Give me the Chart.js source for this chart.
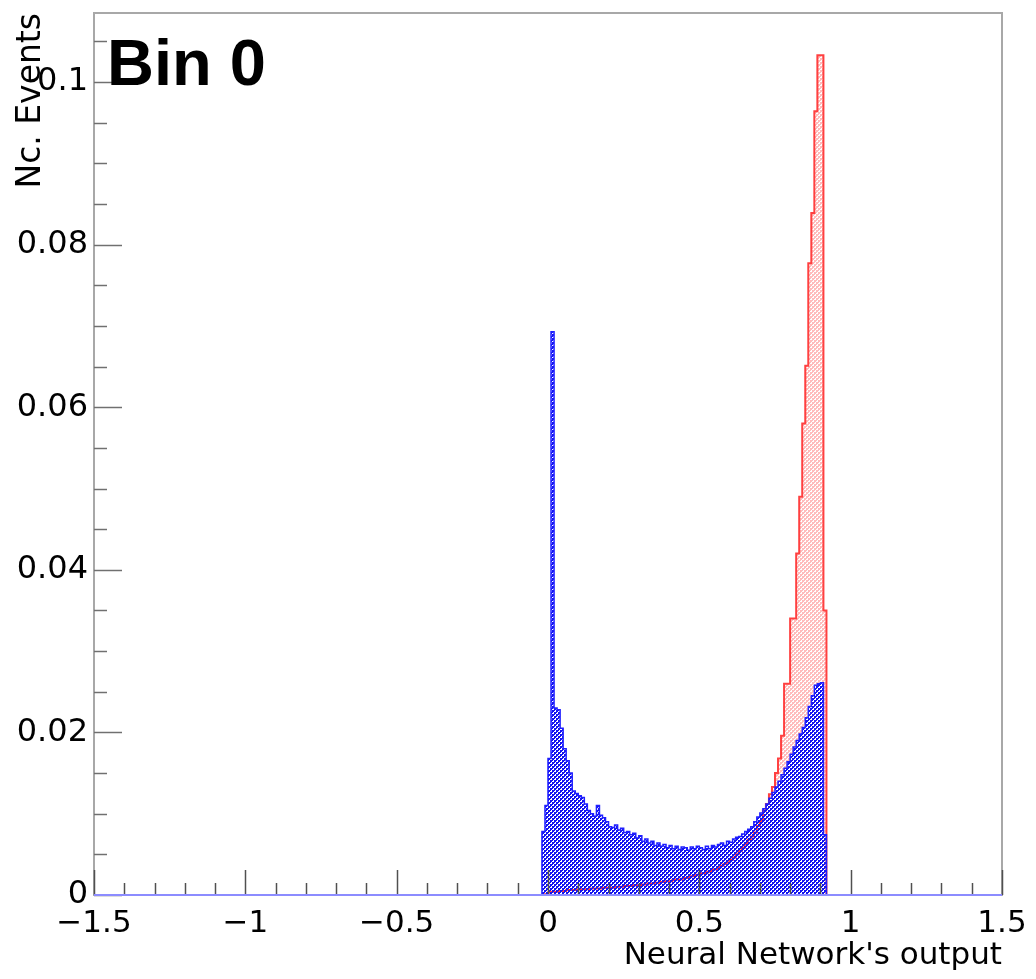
<!DOCTYPE html>
<html lang="en">
<head>
<meta charset="UTF-8">
<title>Bin 0 - Neural Network output</title>
<script src="https://cdn.jsdelivr.net/npm/chart.js"></script>
<style>
	body { margin: 0; background: #fff; }
	#wrap { width: 1036px; height: 979px; }
</style>
</head>
<body>
<div id="wrap"><canvas id="histChart" width="1036" height="979"></canvas></div>
<script>
// histogram binning (NN output)
const binStart = -0.02;
const binWidth = 0.01;

// blue histogram, one value per bin
const blueCounts = [
	0.0078, 0.0110, 0.0168, 0.0693, 0.0230, 0.0228, 0.0205, 0.0180, 0.0165, 0.0150,
	0.0128, 0.0125, 0.0122, 0.0120, 0.0112, 0.0104, 0.0100, 0.0097, 0.0110, 0.0098,
	0.0095, 0.0090, 0.0084, 0.0083, 0.0086, 0.0080, 0.0082, 0.0077, 0.0078, 0.0074,
	0.0076, 0.0070, 0.0073, 0.0066, 0.0069, 0.0064, 0.0066, 0.0061, 0.0064, 0.0060,
	0.0062, 0.0058, 0.0061, 0.0057, 0.0060, 0.0056, 0.0059, 0.0058, 0.0055, 0.0059,
	0.0057, 0.0060, 0.0058, 0.0056, 0.0060, 0.0057, 0.0061, 0.0059, 0.0062, 0.0064,
	0.0061, 0.0066, 0.0065, 0.0069, 0.0071, 0.0072, 0.0075, 0.0078, 0.0081, 0.0084,
	0.0090, 0.0096, 0.0101, 0.0106, 0.0112, 0.0119, 0.0126, 0.0133, 0.0140, 0.0148,
	0.0156, 0.0164, 0.0173, 0.0182, 0.0190, 0.0198, 0.0206, 0.0218, 0.0232, 0.0245,
	0.0258, 0.0260, 0.0261, 0.0074
];

// red histogram, one value per bin
const redCounts = [
	0.0000, 0.0001, 0.0003, 0.0004, 0.0004, 0.0005, 0.0005, 0.0005, 0.0006, 0.0006,
	0.0006, 0.0006, 0.0007, 0.0007, 0.0007, 0.0007, 0.0008, 0.0008, 0.0008, 0.0008,
	0.0009, 0.0009, 0.0009, 0.0009, 0.0010, 0.0010, 0.0010, 0.0011, 0.0011, 0.0011,
	0.0012, 0.0012, 0.0012, 0.0013, 0.0013, 0.0014, 0.0014, 0.0015, 0.0015, 0.0016,
	0.0016, 0.0017, 0.0017, 0.0018, 0.0019, 0.0019, 0.0020, 0.0021, 0.0022, 0.0023,
	0.0024, 0.0025, 0.0026, 0.0027, 0.0028, 0.0029, 0.0031, 0.0032, 0.0034, 0.0036,
	0.0038, 0.0040, 0.0043, 0.0046, 0.0050, 0.0054, 0.0058, 0.0063, 0.0068, 0.0072,
	0.0077, 0.0085, 0.0091, 0.0104, 0.0112, 0.0124, 0.0133, 0.0150, 0.0168, 0.0196,
	0.0260, 0.0260, 0.0340, 0.0340, 0.0420, 0.0490, 0.0580, 0.0651, 0.0777, 0.0839,
	0.0964, 0.1033, 0.1033, 0.0350
];

// axis ranges and tick labels
const xRange = [-1.5, 1.5];
const yRange = [0, 0.1085];
const xTicks = [-1.5, -1, -0.5, 0, 0.5, 1, 1.5];
const yTicks = [0, 0.02, 0.04, 0.06, 0.08, 0.1];
const xTitle = "Neural Network's output";
const yTitle = 'Nc. Events';
const panelLabel = 'Bin 0';


// turn counts into step points (left edge of each bin, closing at 0)
function histPoints(counts) {
	const pts = [{ x: xRange[0], y: 0 }];
	counts.forEach((v, i) => pts.push({ x: binStart + i * binWidth, y: v }));
	pts.push({ x: binStart + counts.length * binWidth, y: 0 });
	pts.push({ x: xRange[1], y: 0 });
	return pts;
}

// ROOT-like pattern fill: solid colour with small transparent holes
function makePattern(color) {
	const c = document.createElement('canvas');
	c.width = 4; c.height = 4;
	const g = c.getContext('2d');
	g.fillStyle = color;
	g.fillRect(0, 0, 4, 4);
	[[1, 0], [0, 1], [1, 1], [3, 2], [2, 3], [3, 3]].forEach(p => g.clearRect(p[0], p[1], 1, 1));
	return g.createPattern(c, 'repeat');
}

function fmt(v) {
	return String(v).replace('-', '\u2212');
}

// frame, inner ticks and the panel label
const rootStyle = {
	id: 'rootStyle',
	afterDraw(chart) {
		const ctx = chart.ctx;
		const a = chart.chartArea;
		const xs = chart.scales.x, ys = chart.scales.y;
		ctx.save();

		// frame
		ctx.strokeStyle = '#a8a8a8';
		ctx.lineWidth = 2;
		ctx.strokeRect(a.left, a.top, a.right - a.left, a.bottom - a.top);

		// y ticks (inside, pointing right)
		ctx.strokeStyle = '#707070';
		ctx.lineWidth = 1.5;
		for (let k = 0; k <= 21; k++) {
			const v = k * 0.005;
			const py = Math.round(ys.getPixelForValue(v)) + 0.5;
			const len = (k % 4 === 0) ? 28 : 13;
			ctx.beginPath();
			ctx.moveTo(a.left, py);
			ctx.lineTo(a.left + len, py);
			ctx.stroke();
		}

		// x ticks (inside, pointing up)
		ctx.strokeStyle = '#505050';
		for (let k = 0; k <= 30; k++) {
			const v = xRange[0] + k * 0.1;
			const px = Math.round(xs.getPixelForValue(v)) + 0.5;
			const len = (k % 5 === 0) ? 25 : 12;
			ctx.beginPath();
			ctx.moveTo(px, a.bottom);
			ctx.lineTo(px, a.bottom - len);
			ctx.stroke();
		}

		// blue baseline drawn over the frame bottom
		ctx.strokeStyle = '#8c8cff';
		ctx.lineWidth = 2;
		ctx.beginPath();
		ctx.moveTo(a.left, a.bottom);
		ctx.lineTo(a.right, a.bottom);
		ctx.stroke();

		// panel label
		ctx.fillStyle = '#000';
		ctx.font = 'bold 65px "Liberation Sans", Arial, sans-serif';
		ctx.textAlign = 'left';
		ctx.textBaseline = 'alphabetic';
		ctx.fillText(panelLabel, 107, 85);
		ctx.restore();
	}
};

const ctx = document.getElementById('histChart').getContext('2d');
const histChart = new Chart(ctx, {
	type: 'line',
	data: {
		datasets: [
			{
				label: 'blue',
				data: histPoints(blueCounts),
				stepped: true,
				borderColor: '#1f1fff',
				borderWidth: 1.5,
				backgroundColor: makePattern('#1414f0'),
				fill: 'origin',
				pointRadius: 0
			},
			{
				label: 'red',
				data: histPoints(redCounts),
				stepped: true,
				borderColor: '#ff4040',
				borderWidth: 2,
				backgroundColor: makePattern('#ffbcbc'),
				fill: 'origin',
				pointRadius: 0
			}
		]
	},
	options: {
		responsive: false,
		animation: false,
		devicePixelRatio: 1,
		layout: { padding: { top: 13, right: 34, left: 0, bottom: 0 } },
		plugins: {
			legend: { display: false },
			tooltip: { enabled: false }
		},
		scales: {
			x: {
				type: 'linear',
				min: xRange[0],
				max: xRange[1],
				afterBuildTicks: s => { s.ticks = xTicks.map(v => ({ value: v })); },
				afterFit: s => { s.height = 84; s.paddingLeft = 0; s.paddingRight = 0; },
				grid: { display: false, drawTicks: false },
				border: { display: false },
				ticks: {
					padding: 10,
					maxRotation: 0,
					autoSkip: false,
					color: '#000',
					font: { family: '"DejaVu Sans", sans-serif', size: 31 },
					callback: v => fmt(v)
				},
				title: {
					display: true,
					text: xTitle,
					align: 'end',
					color: '#000',
					font: { family: '"DejaVu Sans", sans-serif', size: 31 },
					padding: { top: 0, bottom: 4 }
				}
			},
			y: {
				type: 'linear',
				min: yRange[0],
				max: yRange[1],
				afterBuildTicks: s => { s.ticks = yTicks.map(v => ({ value: v })); },
				afterFit: s => { s.width = 94; s.paddingTop = 0; s.paddingBottom = 0; },
				grid: { display: false, drawTicks: false },
				border: { display: false },
				ticks: {
					padding: 6,
					autoSkip: false,
					color: '#000',
					font: { family: '"DejaVu Sans", sans-serif', size: 32 },
					callback: v => fmt(v)
				},
				title: {
					display: true,
					text: yTitle,
					align: 'end',
					color: '#000',
					font: { family: '"DejaVu Sans", sans-serif', size: 33 },
					padding: { top: 12, bottom: 0 }
				}
			}
		}
	},
	plugins: [rootStyle]
});
</script>
</body>
</html>
